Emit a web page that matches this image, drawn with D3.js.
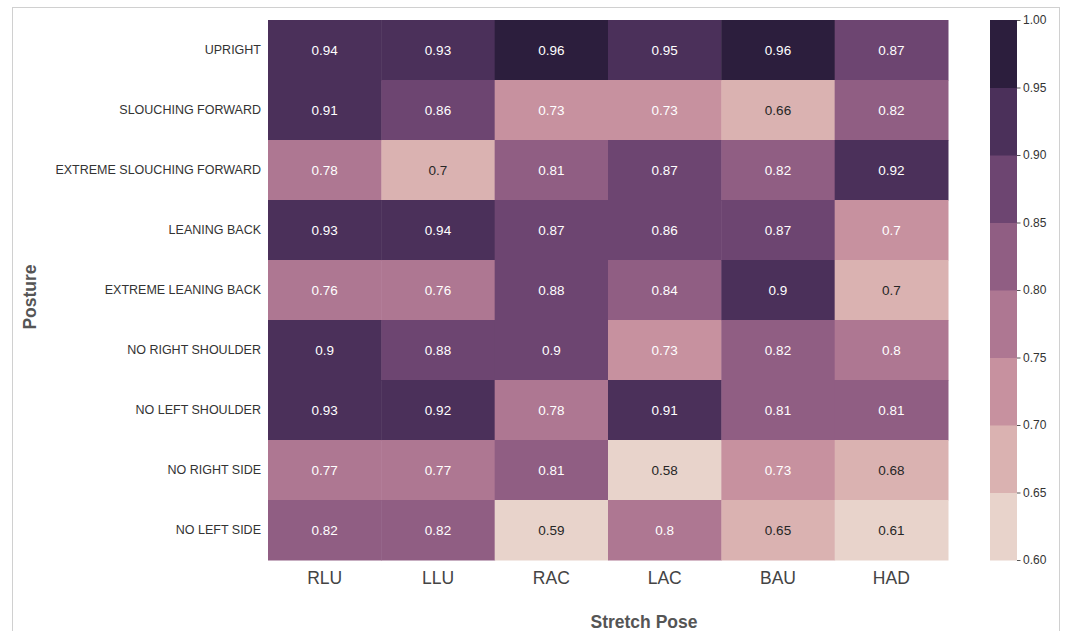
<!DOCTYPE html>
<html>
<head>
<meta charset="utf-8">
<script src="https://cdn.jsdelivr.net/npm/d3@7"></script>
<style>
  html, body { margin: 0; padding: 0; background: #fff; }
  svg { display: block; font-family: "Liberation Sans", Arial, sans-serif; }
</style>
</head>
<body>
<svg id="chart" width="1065" height="631"></svg>
<script>
// ---- data ----
const postures = ["UPRIGHT", "SLOUCHING FORWARD", "EXTREME SLOUCHING FORWARD", "LEANING BACK",
  "EXTREME LEANING BACK", "NO RIGHT SHOULDER", "NO LEFT SHOULDER", "NO RIGHT SIDE", "NO LEFT SIDE"];
const poses = ["RLU", "LLU", "RAC", "LAC", "BAU", "HAD"];
// values per posture row (columns in poses order); third decimal
const valUpright        = [0.94, 0.93, 0.96, 0.949, 0.96, 0.87];
const valSlouch         = [0.91, 0.86, 0.73, 0.73, 0.66, 0.82];
const valExtSlouch      = [0.78, 0.698, 0.81, 0.87, 0.82, 0.92];
const valLeanBack       = [0.93, 0.94, 0.87, 0.86, 0.87, 0.702];
const valExtLeanBack    = [0.76, 0.76, 0.88, 0.84, 0.90, 0.698];
const valNoRightShoulder= [0.90, 0.88, 0.898, 0.73, 0.82, 0.798];
const valNoLeftShoulder = [0.93, 0.92, 0.78, 0.91, 0.81, 0.81];
const valNoRightSide    = [0.77, 0.77, 0.81, 0.58, 0.73, 0.68];
const valNoLeftSide     = [0.82, 0.82, 0.59, 0.798, 0.65, 0.61];
const rows = [valUpright, valSlouch, valExtSlouch, valLeanBack, valExtLeanBack,
  valNoRightShoulder, valNoLeftShoulder, valNoRightSide, valNoLeftSide];
const colorTicks = [0.60, 0.65, 0.70, 0.75, 0.80, 0.85, 0.90, 0.95, 1.00];
const palette = ["#e8d3cb", "#dab2b1", "#c7919f", "#ae7792", "#905e83", "#6d4571", "#4b305a", "#2c1e3d"];

// ---- layout ----
const svg = d3.select("#chart");
const L = 268, R = 948, T = 20, B = 560;

svg.append("rect").attr("x", 12.5).attr("y", 7.5).attr("width", 1047).attr("height", 640)
  .attr("fill", "none").attr("stroke", "#d0d0d0").attr("stroke-width", 1);

const x = d3.scaleBand().domain(poses).range([L, R]);
const y = d3.scaleBand().domain(postures).range([T, B]);
const color = d3.scaleThreshold().domain(colorTicks.slice(1, -1)).range(palette);

const cells = [];
rows.forEach((r, i) => r.forEach((v, j) => cells.push({ p: postures[i], s: poses[j], v })));

function lum(hex) {
  const c = d3.rgb(hex);
  const f = u => { u /= 255; return u <= 0.03928 ? u / 12.92 : Math.pow((u + 0.055) / 1.055, 2.4); };
  return 0.2126 * f(c.r) + 0.7152 * f(c.g) + 0.0722 * f(c.b);
}

svg.append("g").selectAll("rect").data(cells).join("rect")
  .attr("x", d => x(d.s)).attr("y", d => y(d.p))
  .attr("width", x.bandwidth() + 0.5).attr("height", y.bandwidth() + 0.5)
  .attr("fill", d => color(d.v));

svg.append("g").selectAll("text").data(cells).join("text")
  .attr("x", d => x(d.s) + x.bandwidth() / 2)
  .attr("y", d => y(d.p) + y.bandwidth() / 2)
  .attr("text-anchor", "middle").attr("dominant-baseline", "central")
  .attr("font-size", 13.5)
  .attr("fill", d => lum(color(d.v)) > 0.408 ? "#262626" : "#ffffff")
  .text(d => String(Math.round(d.v * 100) / 100));

// y axis labels
const yAxis = svg.append("g").attr("transform", `translate(${L},0)`)
  .call(d3.axisLeft(y).tickSize(0).tickPadding(7));
yAxis.select(".domain").remove();
yAxis.selectAll("text").attr("font-size", 12.5).attr("fill", "#333")
  .attr("font-family", "Liberation Sans, Arial, sans-serif");

// x axis labels
const xAxis = svg.append("g").attr("transform", `translate(0,${B})`)
  .call(d3.axisBottom(x).tickSize(0).tickPadding(12));
xAxis.select(".domain").remove();
xAxis.selectAll("text").attr("font-size", 17.5).attr("fill", "#444")
  .attr("font-family", "Liberation Sans, Arial, sans-serif");

// axis titles
svg.append("text").attr("x", 644).attr("y", 628).attr("text-anchor", "middle")
  .attr("font-size", 17.5).attr("font-weight", "bold").attr("fill", "#555").text("Stretch Pose");
svg.append("text").attr("transform", "translate(36,297) rotate(-90)").attr("text-anchor", "middle")
  .attr("font-size", 17.5).attr("font-weight", "bold").attr("fill", "#555").text("Posture");

// colorbar
const cbX = 990, cbW = 27;
const cy = d3.scaleLinear().domain([0.6, 1.0]).range([B, T]);
svg.append("g").selectAll("rect").data(palette).join("rect")
  .attr("x", cbX).attr("width", cbW)
  .attr("y", (c, i) => cy(colorTicks[i + 1]))
  .attr("height", (c, i) => cy(colorTicks[i]) - cy(colorTicks[i + 1]) + 0.5)
  .attr("fill", c => c);
const cAxis = svg.append("g").attr("transform", `translate(${cbX + cbW},0)`)
  .call(d3.axisRight(cy).tickValues(colorTicks).tickFormat(d3.format(".2f")).tickSize(3.5).tickPadding(2.5));
cAxis.select(".domain").remove();
cAxis.selectAll("line").attr("stroke", "#555");
cAxis.selectAll("text").attr("font-size", 12).attr("fill", "#333")
  .attr("font-family", "Liberation Sans, Arial, sans-serif");
</script>
</body>
</html>
